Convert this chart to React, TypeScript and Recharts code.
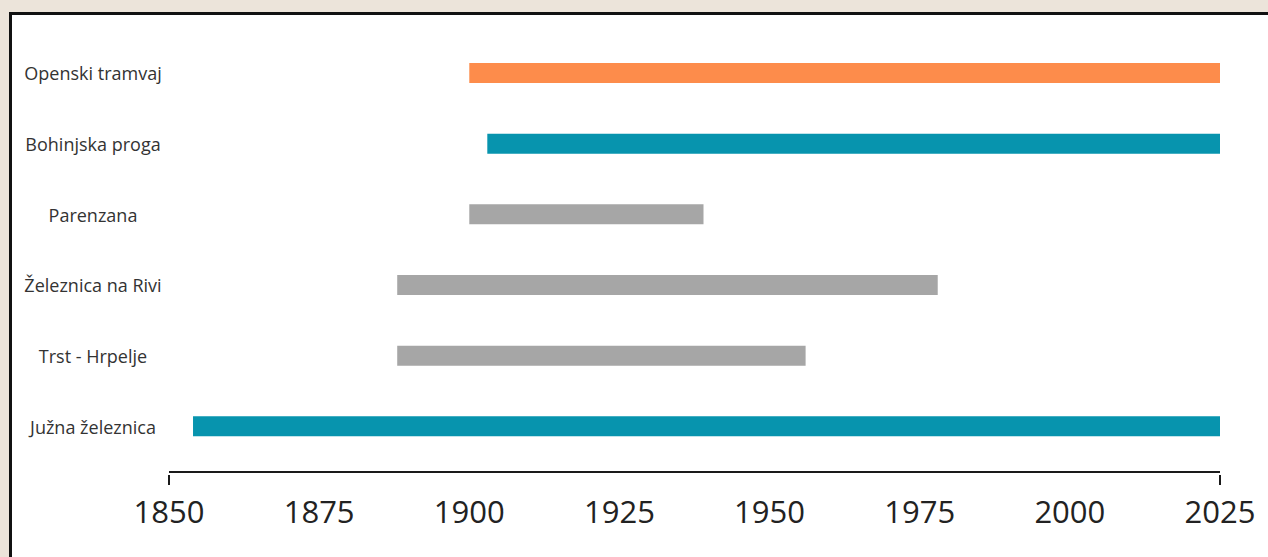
import { Bar, BarChart, Cell, XAxis, YAxis } from "recharts";

const lines = [
  "Openski tramvaj",
  "Bohinjska proga",
  "Parenzana",
  "Železnica na Rivi",
  "Trst - Hrpelje",
  "Južna železnica",
];
const starts = [1900, 1903, 1900, 1888, 1888, 1854];
const ends = [2025, 2025, 1939, 1978, 1956, 2025];
const colors = ["#fd8c4b", "#0794ae", "#a6a6a6", "#a6a6a6", "#a6a6a6", "#0794ae"];
const yearTicks = [1850, 1875, 1900, 1925, 1950, 1975, 2000, 2025];

const data = lines.map((name, i) => ({ name, span: [starts[i], ends[i]] }));

function LineTick({ y, payload }: any) {
  return (
    <text
      x={93}
      y={y}
      textAnchor="middle"
      dominantBaseline="central"
      fill="#333"
      fontSize={18}
      fontFamily="'Open Sans', sans-serif"
    >
      {payload.value}
    </text>
  );
}

function YearTick({ x, y, payload }: any) {
  const edge = payload.value === 1850 || payload.value === 2025;
  return (
    <g>
      {edge && <line x1={x} x2={x} y1={y - 5} y2={y + 5} stroke="#1a1a1a" strokeWidth={2} />}
      <text
        x={x}
        y={y + 31}
        textAnchor="middle"
        dominantBaseline="central"
        fill="#222"
        fontSize={31}
        fontFamily="'Open Sans', sans-serif"
      >
        {payload.value}
      </text>
    </g>
  );
}

export default function App() {
  return (
    <div
      style={{
        position: "fixed",
        left: 0,
        top: 0,
        width: 1268,
        height: 557,
        background: "#ece4da",
        overflow: "hidden",
      }}
    >
      <div
        style={{
          position: "absolute",
          left: 9,
          top: 12,
          width: 1300,
          height: 600,
          background: "#fff",
          border: "3px solid #111",
        }}
      />
      <div style={{ position: "absolute", left: 0, top: 0 }}>
        <BarChart
          width={1268}
          height={557}
          data={data}
          layout="vertical"
          margin={{ top: 38, right: 48, bottom: 0, left: 0 }}
          barSize={20}
        >
          <XAxis
            type="number"
            domain={[1850, 2025]}
            ticks={yearTicks}
            interval={0}
            axisLine={{ stroke: "#1a1a1a", strokeWidth: 2 }}
            tickLine={false}
            tick={<YearTick />}
            height={85}
          />
          <YAxis
            type="category"
            dataKey="name"
            width={169}
            axisLine={false}
            tickLine={false}
            tick={<LineTick />}
            padding={{ top: 0, bottom: 10 }}
          />
          <Bar dataKey="span" isAnimationActive={false}>
            {data.map((d, i) => (
              <Cell key={d.name} fill={colors[i]} />
            ))}
          </Bar>
        </BarChart>
      </div>
    </div>
  );
}
